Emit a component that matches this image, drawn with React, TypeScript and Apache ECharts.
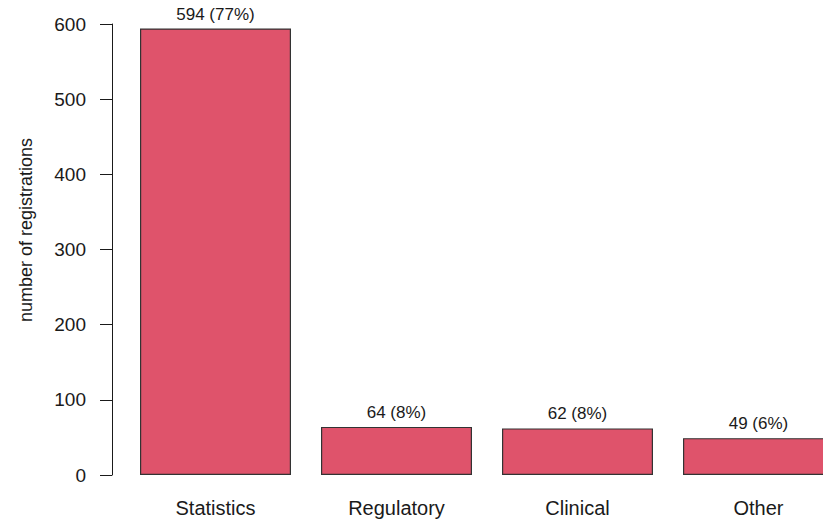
import React, { useEffect, useRef } from "react";
import * as echarts from "echarts";

const categories = ["Statistics", "Regulatory", "Clinical", "Other"];
const counts = [594, 64, 62, 49];
const percents = ["77%", "8%", "8%", "6%"];
const yTicks = [0, 100, 200, 300, 400, 500, 600];
const yTitle = "number of registrations";

const FONT = "Liberation Sans, Arial, Helvetica, sans-serif";

export default function App() {
  const ref = useRef<HTMLDivElement>(null);
  useEffect(() => {
    if (!ref.current) return;
    const chart = echarts.init(ref.current, null, { renderer: "svg" });
    chart.setOption({
      animation: false,
      backgroundColor: "#ffffff",
      grid: { left: 125, top: 24, width: 724, bottom: 46, containLabel: false },
      xAxis: {
        type: "category",
        data: categories,
        axisLine: { show: false },
        axisTick: { show: false },
        axisLabel: { fontFamily: FONT, fontSize: 20, color: "#1a1a1a", margin: 23 },
      },
      yAxis: {
        type: "value",
        min: yTicks[0],
        max: yTicks[yTicks.length - 1],
        interval: 100,
        offset: 13,
        splitLine: { show: false },
        axisLine: { show: true, lineStyle: { color: "#1a1a1a", width: 1 } },
        axisTick: { show: true, length: 12, lineStyle: { color: "#1a1a1a", width: 1 } },
        axisLabel: { fontFamily: FONT, fontSize: 19, color: "#1a1a1a", margin: 26 },
      },
      graphic: [
        {
          type: "text",
          x: 26,
          y: 230,
          rotation: Math.PI / 2,
          style: {
            text: yTitle,
            font: `18px ${FONT}`,
            fill: "#1a1a1a",
            align: "center",
            verticalAlign: "middle",
          },
        },
      ],
      series: [
        {
          type: "bar",
          data: counts,
          barWidth: 151,
          itemStyle: { color: "#DF536B", borderColor: "#333333", borderWidth: 1.2 },
          label: {
            show: true,
            position: "top",
            distance: 6,
            fontFamily: FONT,
            fontSize: 17,
            lineHeight: 17,
            color: "#1a1a1a",
            formatter: (p: any) => `${counts[p.dataIndex]} (${percents[p.dataIndex]})`,
          },
        },
      ],
    });
    return () => chart.dispose();
  }, []);
  return <div ref={ref} style={{ width: 870, height: 521, position: "fixed", left: 0, top: 0 }} />;
}
